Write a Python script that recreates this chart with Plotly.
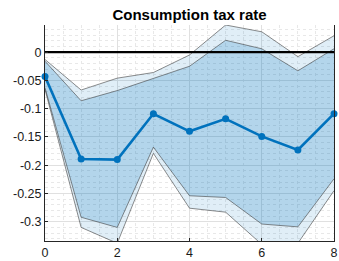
import plotly.graph_objects as go

horizon = [0, 1, 2, 3, 4, 5, 6, 7, 8]
median = [-0.043, -0.189, -0.190, -0.109, -0.140, -0.118, -0.149, -0.173, -0.109]
inner_upper = [-0.016, -0.086, -0.068, -0.047, -0.025, 0.021, 0.006, -0.033, 0.006]
inner_lower = [-0.063, -0.292, -0.310, -0.168, -0.254, -0.257, -0.304, -0.309, -0.224]
outer_upper = [-0.013, -0.067, -0.046, -0.036, -0.005, 0.048, 0.036, -0.008, 0.029]
outer_lower = [-0.066, -0.310, -0.338, -0.179, -0.276, -0.283, -0.340, -0.338, -0.245]

ytick_vals = [0, -0.05, -0.1, -0.15, -0.2, -0.25, -0.3]
ytick_text = ["0", "-0.05", "-0.1", "-0.15", "-0.2", "-0.25", "-0.3"]
xtick_vals = [0, 2, 4, 6, 8]

blue = "#0072BD"
edge = "rgba(60,60,60,0.85)"

fig = go.Figure()
fig.add_trace(go.Scatter(x=horizon, y=outer_lower, mode="lines",
                         line=dict(color=edge, width=0.7), showlegend=False))
fig.add_trace(go.Scatter(x=horizon, y=outer_upper, mode="lines", fill="tonexty",
                         fillcolor="rgba(0,114,189,0.12)",
                         line=dict(color=edge, width=0.7), showlegend=False))
fig.add_trace(go.Scatter(x=horizon, y=inner_lower, mode="lines",
                         line=dict(color=edge, width=0.7), showlegend=False))
fig.add_trace(go.Scatter(x=horizon, y=inner_upper, mode="lines", fill="tonexty",
                         fillcolor="rgba(0,114,189,0.2)",
                         line=dict(color=edge, width=0.7), showlegend=False))
fig.add_trace(go.Scatter(x=[0, 8], y=[0, 0], mode="lines",
                         line=dict(color="black", width=2.2), showlegend=False))
fig.add_trace(go.Scatter(x=horizon, y=median, mode="lines+markers",
                         line=dict(color=blue, width=2.6),
                         marker=dict(color=blue, size=7), showlegend=False,
                         cliponaxis=False))

axis_font = dict(family="Liberation Sans, Arial, sans-serif", size=12.5, color="#1a1a1a")

fig.update_layout(
    width=339, height=261,
    margin=dict(l=45, r=5, t=25, b=20, autoexpand=False),
    paper_bgcolor="white", plot_bgcolor="white",
    hovermode=False,
    title=dict(text="<b>Consumption tax rate</b>", x=0.5, xref="paper", xanchor="center",
               y=1 - 15 / 261, yref="container", yanchor="middle", pad=dict(t=0, b=0),
               font=dict(family="Liberation Sans, Arial, sans-serif", size=15, color="black")),
    xaxis=dict(range=[0, 8], tickvals=xtick_vals, ticks="inside", ticklen=3,
               tickcolor="#262626", showline=True, linecolor="#262626", linewidth=1,
               showgrid=True, gridcolor="#e0e0e0", gridwidth=1, zeroline=False,
               tickfont=axis_font, automargin=False,
               minor=dict(dtick=0.5, showgrid=True, gridcolor="#e8e8e8", griddash="dot")),
    yaxis=dict(range=[-0.334, 0.048], tickvals=ytick_vals, ticktext=ytick_text,
               ticks="inside", ticklen=3, tickcolor="#262626",
               showline=True, linecolor="#262626", linewidth=1, mirror=True,
               showgrid=True, gridcolor="#e0e0e0", gridwidth=1, zeroline=False,
               tickfont=axis_font, automargin=False,
               minor=dict(dtick=0.01, showgrid=True, gridcolor="#e8e8e8", griddash="dot")),
)

fig.write_html(
    "out.html",
    config={"displayModeBar": False, "staticPlot": True},
    post_script="document.body.style.margin='0';document.body.style.overflow='hidden';",
)
